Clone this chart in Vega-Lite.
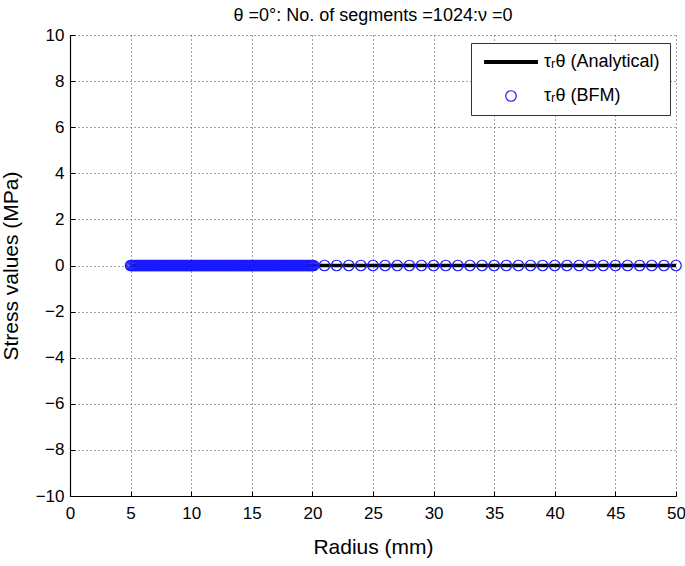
{
  "$schema": "https://vega.github.io/schema/vega-lite/v6.json",
  "autosize": {"type": "none"},
  "padding": {"left": 70, "top": 35, "right": 9, "bottom": 70},
  "width": 606,
  "height": 461,
  "background": "white",
  "title": {"text": "θ =0°: No. of segments =1024:ν =0", "font": "Liberation Sans", "fontSize": 18, "fontWeight": "normal", "color": "#000", "offset": 1, "anchor": "middle"},
  "config": {
    "view": {"stroke": null},
    "axis": {"labelFont": "Liberation Sans", "titleFont": "Liberation Sans", "labelFontSize": 17, "titleFontSize": 21, "titleFontWeight": "normal", "labelColor": "#000", "titleColor": "#000", "domainColor": "#000", "domainWidth": 1.2, "ticks": true, "tickSize": -5, "tickColor": "#000", "tickWidth": 1, "gridColor": "#444", "gridDash": [1, 3], "gridWidth": 1, "gridOpacity": 1}
  },
  "datasets": {
    "analytical": [
      {"r": 5, "stress": 0, "series": "τᵣθ (Analytical)"},
      {"r": 50, "stress": 0, "series": "τᵣθ (Analytical)"}
    ],
    "bfm": [
      {"r": 5.0, "stress": 0, "series": "τᵣθ (BFM)"}, {"r": 5.1, "stress": 0, "series": "τᵣθ (BFM)"}, {"r": 5.2, "stress": 0, "series": "τᵣθ (BFM)"}, {"r": 5.3, "stress": 0, "series": "τᵣθ (BFM)"}, {"r": 5.4, "stress": 0, "series": "τᵣθ (BFM)"}, {"r": 5.5, "stress": 0, "series": "τᵣθ (BFM)"}, {"r": 5.6, "stress": 0, "series": "τᵣθ (BFM)"}, {"r": 5.7, "stress": 0, "series": "τᵣθ (BFM)"}, {"r": 5.8, "stress": 0, "series": "τᵣθ (BFM)"}, {"r": 5.9, "stress": 0, "series": "τᵣθ (BFM)"},
      {"r": 6.0, "stress": 0, "series": "τᵣθ (BFM)"}, {"r": 6.1, "stress": 0, "series": "τᵣθ (BFM)"}, {"r": 6.2, "stress": 0, "series": "τᵣθ (BFM)"}, {"r": 6.3, "stress": 0, "series": "τᵣθ (BFM)"}, {"r": 6.4, "stress": 0, "series": "τᵣθ (BFM)"}, {"r": 6.5, "stress": 0, "series": "τᵣθ (BFM)"}, {"r": 6.6, "stress": 0, "series": "τᵣθ (BFM)"}, {"r": 6.7, "stress": 0, "series": "τᵣθ (BFM)"}, {"r": 6.8, "stress": 0, "series": "τᵣθ (BFM)"}, {"r": 6.9, "stress": 0, "series": "τᵣθ (BFM)"},
      {"r": 7.0, "stress": 0, "series": "τᵣθ (BFM)"}, {"r": 7.1, "stress": 0, "series": "τᵣθ (BFM)"}, {"r": 7.2, "stress": 0, "series": "τᵣθ (BFM)"}, {"r": 7.3, "stress": 0, "series": "τᵣθ (BFM)"}, {"r": 7.4, "stress": 0, "series": "τᵣθ (BFM)"}, {"r": 7.5, "stress": 0, "series": "τᵣθ (BFM)"}, {"r": 7.6, "stress": 0, "series": "τᵣθ (BFM)"}, {"r": 7.7, "stress": 0, "series": "τᵣθ (BFM)"}, {"r": 7.8, "stress": 0, "series": "τᵣθ (BFM)"}, {"r": 7.9, "stress": 0, "series": "τᵣθ (BFM)"},
      {"r": 8.0, "stress": 0, "series": "τᵣθ (BFM)"}, {"r": 8.1, "stress": 0, "series": "τᵣθ (BFM)"}, {"r": 8.2, "stress": 0, "series": "τᵣθ (BFM)"}, {"r": 8.3, "stress": 0, "series": "τᵣθ (BFM)"}, {"r": 8.4, "stress": 0, "series": "τᵣθ (BFM)"}, {"r": 8.5, "stress": 0, "series": "τᵣθ (BFM)"}, {"r": 8.6, "stress": 0, "series": "τᵣθ (BFM)"}, {"r": 8.7, "stress": 0, "series": "τᵣθ (BFM)"}, {"r": 8.8, "stress": 0, "series": "τᵣθ (BFM)"}, {"r": 8.9, "stress": 0, "series": "τᵣθ (BFM)"},
      {"r": 9.0, "stress": 0, "series": "τᵣθ (BFM)"}, {"r": 9.1, "stress": 0, "series": "τᵣθ (BFM)"}, {"r": 9.2, "stress": 0, "series": "τᵣθ (BFM)"}, {"r": 9.3, "stress": 0, "series": "τᵣθ (BFM)"}, {"r": 9.4, "stress": 0, "series": "τᵣθ (BFM)"}, {"r": 9.5, "stress": 0, "series": "τᵣθ (BFM)"}, {"r": 9.6, "stress": 0, "series": "τᵣθ (BFM)"}, {"r": 9.7, "stress": 0, "series": "τᵣθ (BFM)"}, {"r": 9.8, "stress": 0, "series": "τᵣθ (BFM)"}, {"r": 9.9, "stress": 0, "series": "τᵣθ (BFM)"},
      {"r": 10.0, "stress": 0, "series": "τᵣθ (BFM)"}, {"r": 10.1, "stress": 0, "series": "τᵣθ (BFM)"}, {"r": 10.2, "stress": 0, "series": "τᵣθ (BFM)"}, {"r": 10.3, "stress": 0, "series": "τᵣθ (BFM)"}, {"r": 10.4, "stress": 0, "series": "τᵣθ (BFM)"}, {"r": 10.5, "stress": 0, "series": "τᵣθ (BFM)"}, {"r": 10.6, "stress": 0, "series": "τᵣθ (BFM)"}, {"r": 10.7, "stress": 0, "series": "τᵣθ (BFM)"}, {"r": 10.8, "stress": 0, "series": "τᵣθ (BFM)"}, {"r": 10.9, "stress": 0, "series": "τᵣθ (BFM)"},
      {"r": 11.0, "stress": 0, "series": "τᵣθ (BFM)"}, {"r": 11.1, "stress": 0, "series": "τᵣθ (BFM)"}, {"r": 11.2, "stress": 0, "series": "τᵣθ (BFM)"}, {"r": 11.3, "stress": 0, "series": "τᵣθ (BFM)"}, {"r": 11.4, "stress": 0, "series": "τᵣθ (BFM)"}, {"r": 11.5, "stress": 0, "series": "τᵣθ (BFM)"}, {"r": 11.6, "stress": 0, "series": "τᵣθ (BFM)"}, {"r": 11.7, "stress": 0, "series": "τᵣθ (BFM)"}, {"r": 11.8, "stress": 0, "series": "τᵣθ (BFM)"}, {"r": 11.9, "stress": 0, "series": "τᵣθ (BFM)"},
      {"r": 12.0, "stress": 0, "series": "τᵣθ (BFM)"}, {"r": 12.1, "stress": 0, "series": "τᵣθ (BFM)"}, {"r": 12.2, "stress": 0, "series": "τᵣθ (BFM)"}, {"r": 12.3, "stress": 0, "series": "τᵣθ (BFM)"}, {"r": 12.4, "stress": 0, "series": "τᵣθ (BFM)"}, {"r": 12.5, "stress": 0, "series": "τᵣθ (BFM)"}, {"r": 12.6, "stress": 0, "series": "τᵣθ (BFM)"}, {"r": 12.7, "stress": 0, "series": "τᵣθ (BFM)"}, {"r": 12.8, "stress": 0, "series": "τᵣθ (BFM)"}, {"r": 12.9, "stress": 0, "series": "τᵣθ (BFM)"},
      {"r": 13.0, "stress": 0, "series": "τᵣθ (BFM)"}, {"r": 13.1, "stress": 0, "series": "τᵣθ (BFM)"}, {"r": 13.2, "stress": 0, "series": "τᵣθ (BFM)"}, {"r": 13.3, "stress": 0, "series": "τᵣθ (BFM)"}, {"r": 13.4, "stress": 0, "series": "τᵣθ (BFM)"}, {"r": 13.5, "stress": 0, "series": "τᵣθ (BFM)"}, {"r": 13.6, "stress": 0, "series": "τᵣθ (BFM)"}, {"r": 13.7, "stress": 0, "series": "τᵣθ (BFM)"}, {"r": 13.8, "stress": 0, "series": "τᵣθ (BFM)"}, {"r": 13.9, "stress": 0, "series": "τᵣθ (BFM)"},
      {"r": 14.0, "stress": 0, "series": "τᵣθ (BFM)"}, {"r": 14.1, "stress": 0, "series": "τᵣθ (BFM)"}, {"r": 14.2, "stress": 0, "series": "τᵣθ (BFM)"}, {"r": 14.3, "stress": 0, "series": "τᵣθ (BFM)"}, {"r": 14.4, "stress": 0, "series": "τᵣθ (BFM)"}, {"r": 14.5, "stress": 0, "series": "τᵣθ (BFM)"}, {"r": 14.6, "stress": 0, "series": "τᵣθ (BFM)"}, {"r": 14.7, "stress": 0, "series": "τᵣθ (BFM)"}, {"r": 14.8, "stress": 0, "series": "τᵣθ (BFM)"}, {"r": 14.9, "stress": 0, "series": "τᵣθ (BFM)"},
      {"r": 15.0, "stress": 0, "series": "τᵣθ (BFM)"}, {"r": 15.1, "stress": 0, "series": "τᵣθ (BFM)"}, {"r": 15.2, "stress": 0, "series": "τᵣθ (BFM)"}, {"r": 15.3, "stress": 0, "series": "τᵣθ (BFM)"}, {"r": 15.4, "stress": 0, "series": "τᵣθ (BFM)"}, {"r": 15.5, "stress": 0, "series": "τᵣθ (BFM)"}, {"r": 15.6, "stress": 0, "series": "τᵣθ (BFM)"}, {"r": 15.7, "stress": 0, "series": "τᵣθ (BFM)"}, {"r": 15.8, "stress": 0, "series": "τᵣθ (BFM)"}, {"r": 15.9, "stress": 0, "series": "τᵣθ (BFM)"},
      {"r": 16.0, "stress": 0, "series": "τᵣθ (BFM)"}, {"r": 16.1, "stress": 0, "series": "τᵣθ (BFM)"}, {"r": 16.2, "stress": 0, "series": "τᵣθ (BFM)"}, {"r": 16.3, "stress": 0, "series": "τᵣθ (BFM)"}, {"r": 16.4, "stress": 0, "series": "τᵣθ (BFM)"}, {"r": 16.5, "stress": 0, "series": "τᵣθ (BFM)"}, {"r": 16.6, "stress": 0, "series": "τᵣθ (BFM)"}, {"r": 16.7, "stress": 0, "series": "τᵣθ (BFM)"}, {"r": 16.8, "stress": 0, "series": "τᵣθ (BFM)"}, {"r": 16.9, "stress": 0, "series": "τᵣθ (BFM)"},
      {"r": 17.0, "stress": 0, "series": "τᵣθ (BFM)"}, {"r": 17.1, "stress": 0, "series": "τᵣθ (BFM)"}, {"r": 17.2, "stress": 0, "series": "τᵣθ (BFM)"}, {"r": 17.3, "stress": 0, "series": "τᵣθ (BFM)"}, {"r": 17.4, "stress": 0, "series": "τᵣθ (BFM)"}, {"r": 17.5, "stress": 0, "series": "τᵣθ (BFM)"}, {"r": 17.6, "stress": 0, "series": "τᵣθ (BFM)"}, {"r": 17.7, "stress": 0, "series": "τᵣθ (BFM)"}, {"r": 17.8, "stress": 0, "series": "τᵣθ (BFM)"}, {"r": 17.9, "stress": 0, "series": "τᵣθ (BFM)"},
      {"r": 18.0, "stress": 0, "series": "τᵣθ (BFM)"}, {"r": 18.1, "stress": 0, "series": "τᵣθ (BFM)"}, {"r": 18.2, "stress": 0, "series": "τᵣθ (BFM)"}, {"r": 18.3, "stress": 0, "series": "τᵣθ (BFM)"}, {"r": 18.4, "stress": 0, "series": "τᵣθ (BFM)"}, {"r": 18.5, "stress": 0, "series": "τᵣθ (BFM)"}, {"r": 18.6, "stress": 0, "series": "τᵣθ (BFM)"}, {"r": 18.7, "stress": 0, "series": "τᵣθ (BFM)"}, {"r": 18.8, "stress": 0, "series": "τᵣθ (BFM)"}, {"r": 18.9, "stress": 0, "series": "τᵣθ (BFM)"},
      {"r": 19.0, "stress": 0, "series": "τᵣθ (BFM)"}, {"r": 19.1, "stress": 0, "series": "τᵣθ (BFM)"}, {"r": 19.2, "stress": 0, "series": "τᵣθ (BFM)"}, {"r": 19.3, "stress": 0, "series": "τᵣθ (BFM)"}, {"r": 19.4, "stress": 0, "series": "τᵣθ (BFM)"}, {"r": 19.5, "stress": 0, "series": "τᵣθ (BFM)"}, {"r": 19.6, "stress": 0, "series": "τᵣθ (BFM)"}, {"r": 19.7, "stress": 0, "series": "τᵣθ (BFM)"}, {"r": 19.8, "stress": 0, "series": "τᵣθ (BFM)"}, {"r": 19.9, "stress": 0, "series": "τᵣθ (BFM)"},
      {"r": 20.0, "stress": 0, "series": "τᵣθ (BFM)"}, {"r": 20.1, "stress": 0, "series": "τᵣθ (BFM)"},
      {"r": 21, "stress": 0, "series": "τᵣθ (BFM)"}, {"r": 22, "stress": 0, "series": "τᵣθ (BFM)"}, {"r": 23, "stress": 0, "series": "τᵣθ (BFM)"}, {"r": 24, "stress": 0, "series": "τᵣθ (BFM)"}, {"r": 25, "stress": 0, "series": "τᵣθ (BFM)"}, {"r": 26, "stress": 0, "series": "τᵣθ (BFM)"}, {"r": 27, "stress": 0, "series": "τᵣθ (BFM)"}, {"r": 28, "stress": 0, "series": "τᵣθ (BFM)"}, {"r": 29, "stress": 0, "series": "τᵣθ (BFM)"}, {"r": 30, "stress": 0, "series": "τᵣθ (BFM)"},
      {"r": 31, "stress": 0, "series": "τᵣθ (BFM)"}, {"r": 32, "stress": 0, "series": "τᵣθ (BFM)"}, {"r": 33, "stress": 0, "series": "τᵣθ (BFM)"}, {"r": 34, "stress": 0, "series": "τᵣθ (BFM)"}, {"r": 35, "stress": 0, "series": "τᵣθ (BFM)"}, {"r": 36, "stress": 0, "series": "τᵣθ (BFM)"}, {"r": 37, "stress": 0, "series": "τᵣθ (BFM)"}, {"r": 38, "stress": 0, "series": "τᵣθ (BFM)"}, {"r": 39, "stress": 0, "series": "τᵣθ (BFM)"}, {"r": 40, "stress": 0, "series": "τᵣθ (BFM)"},
      {"r": 41, "stress": 0, "series": "τᵣθ (BFM)"}, {"r": 42, "stress": 0, "series": "τᵣθ (BFM)"}, {"r": 43, "stress": 0, "series": "τᵣθ (BFM)"}, {"r": 44, "stress": 0, "series": "τᵣθ (BFM)"}, {"r": 45, "stress": 0, "series": "τᵣθ (BFM)"}, {"r": 46, "stress": 0, "series": "τᵣθ (BFM)"}, {"r": 47, "stress": 0, "series": "τᵣθ (BFM)"}, {"r": 48, "stress": 0, "series": "τᵣθ (BFM)"}, {"r": 49, "stress": 0, "series": "τᵣθ (BFM)"}, {"r": 50, "stress": 0, "series": "τᵣθ (BFM)"}
    ]
  },
  "encoding": {
    "x": {"field": "r", "type": "quantitative", "title": "Radius (mm)",
      "scale": {"domain": [0, 50], "nice": false, "zero": false},
      "axis": {"values": [0, 5, 10, 15, 20, 25, 30, 35, 40, 45, 50], "labelPadding": 14, "titlePadding": 15, "labelFlush": false}},
    "y": {"field": "stress", "type": "quantitative", "title": "Stress values (MPa)",
      "scale": {"domain": [-10, 10], "nice": false, "zero": false},
      "axis": {"values": [-10, -8, -6, -4, -2, 0, 2, 4, 6, 8, 10], "labelPadding": 11, "titlePadding": 14, "labelFlush": false}},
    "color": {"field": "series", "type": "nominal",
      "scale": {"domain": ["τᵣθ (Analytical)", "τᵣθ (BFM)"], "range": ["#000000", "#1a1aff"]},
      "legend": {
        "title": null, "orient": "none", "legendX": 401, "legendY": 8,
        "labelFont": "Liberation Sans", "labelFontSize": 18, "labelColor": "#000", "labelOffset": 24, "labelLimit": 300,
        "symbolSize": 2900, "symbolOffset": 21, "rowPadding": 16,
        "padding": 10, "strokeColor": "#333", "fillColor": "white",
        "encode": {"symbols": {"update": {
          "shape": {"signal": "datum.value === 'τᵣθ (BFM)' ? 'circle' : 'stroke'"},
          "size": {"signal": "datum.value === 'τᵣθ (BFM)' ? 110 : 2900"},
          "strokeWidth": {"signal": "datum.value === 'τᵣθ (BFM)' ? 1.2 : 4"},
          "stroke": {"signal": "datum.value === 'τᵣθ (BFM)' ? '#1a1aff' : '#000000'"},
          "fill": {"value": "transparent"},
          "opacity": {"value": 1}
        }}}
      }}
  },
  "layer": [
    {"data": {"name": "analytical"}, "mark": {"type": "line", "strokeWidth": 3.5}},
    {"data": {"name": "bfm"}, "mark": {"type": "point", "shape": "circle", "filled": false, "size": 110, "strokeWidth": 1.2, "opacity": 1}}
  ]
}
